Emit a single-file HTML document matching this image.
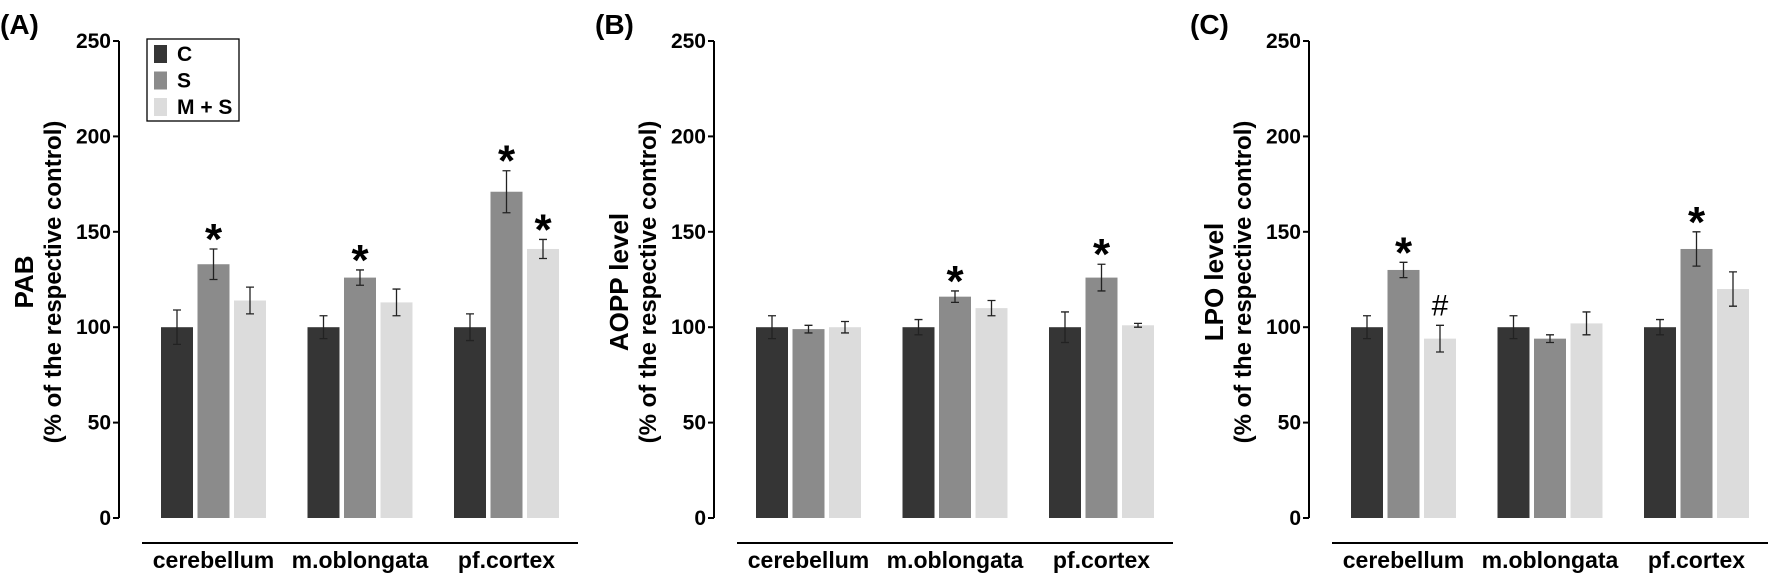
<!DOCTYPE html>
<html><head><meta charset="utf-8"><style>
html,body{margin:0;padding:0;background:#fff;}
svg{display:block;font-family:"Liberation Sans",Arial,sans-serif;font-weight:bold;}
</style></head>
<body>
<svg id="chart" width="1772" height="575" viewBox="0 0 1772 575" xmlns="http://www.w3.org/2000/svg"></svg>
<script>
const categories = ["cerebellum","m.oblongata","pf.cortex"];
const seriesNames = ["C","S","M + S"];
const panelLabels = ["(A)","(B)","(C)"];
const yTitles1 = ["PAB","AOPP level","LPO level"];
const yTicks = [0,50,100,150,200,250];
// values [panel][category][series]
const pabValues  = [[100,133,114],[100,126,113],[100,171,141]];
const pabErrors  = [[9,8,7],[6,4,7],[7,11,5]];
const aoppValues = [[100,99,100],[100,116,110],[100,126,101]];
const aoppErrors = [[6,2,3],[4,3,4],[8,7,1]];
const lpoValues  = [[100,130,94],[100,94,102],[100,141,120]];
const lpoErrors  = [[6,4,7],[6,2,6],[4,9,9]];
// annotations: [panel, category, series, symbol]
const marks = [[0,0,1,"*"],[0,1,1,"*"],[0,2,1,"*"],[0,2,2,"*"],
               [1,1,1,"*"],[1,2,1,"*"],
               [2,0,1,"*"],[2,0,2,"#"],[2,2,1,"*"]];

const values=[pabValues,aoppValues,lpoValues];
const errors=[pabErrors,aoppErrors,lpoErrors];
const colors=["#353535","#8b8b8b","#dcdcdc"];
const svg=document.getElementById('chart');
const NS="http://www.w3.org/2000/svg";
function el(t,a,txt){const e=document.createElementNS(NS,t);for(const k in a)e.setAttribute(k,a[k]);if(txt!==undefined)e.textContent=txt;svg.appendChild(e);return e;}
const y0=518, pxPer=1.908;
function yScale(v){return y0-v*pxPer;}
function axisX(p){return 119+p*595;}
function barX(p,c,s){return axisX(p)+42+c*146.5+s*36.5;}
const BW=32;

for(let p=0;p<3;p++){
  const ax=axisX(p);
  let t=el('text',{x:p*595,y:34,'font-size':28,fill:'#000'},panelLabels[p]);
  
  
  let l=el('line',{x1:ax,y1:yScale(250),x2:ax,y2:y0,stroke:'#000','stroke-width':2});
  
  
  yTicks.forEach(v=>{
    let tk=el('line',{x1:ax-6,y1:yScale(v),x2:ax,y2:yScale(v),stroke:'#000','stroke-width':2});
    
    
    let tl=el('text',{x:ax-8,y:yScale(v)+7,'font-size':21,'text-anchor':'end',fill:'#000'},String(v));
    
    
  });
  const cy=282;
  let t1=el('text',{x:0,y:0,'font-size':26,'text-anchor':'middle',fill:'#000',transform:`translate(${ax-86},${cy}) rotate(-90)`},yTitles1[p]);
  
  
  let t2=el('text',{x:0,y:0,'font-size':24,'text-anchor':'middle',fill:'#000',transform:`translate(${ax-58},${cy}) rotate(-90)`},"(% of the respective control)");
  
  
  let xl=el('line',{x1:ax+23,y1:543,x2:ax+459,y2:543,stroke:'#000','stroke-width':2});
  
  
  categories.forEach((c,ci)=>{
    const cx=barX(p,ci,0)+(36.5*2+BW)/2;
    let ct=el('text',{x:cx,y:568,'font-size':23,'text-anchor':'middle',fill:'#000'},c);
    
    
    for(let s=0;s<3;s++){
      const v=values[p][ci][s], e=errors[p][ci][s], x=barX(p,ci,s);
      let r=el('rect',{x:x,y:yScale(v),width:BW,height:y0-yScale(v),fill:colors[s]});
      
      
      const mx=x+BW/2;
      let eb=el('path',{d:`M${mx},${yScale(v+e)}V${yScale(v-e)}M${mx-4},${yScale(v+e)}H${mx+4}M${mx-4},${yScale(v-e)}H${mx+4}`,stroke:'#222','stroke-width':1.3,fill:'none'});
      
      
    }
  });
}
marks.forEach(m=>{
  const [p,c,s,sym]=m;
  const v=values[p][c][s], e=errors[p][c][s];
  const cx=barX(p,c,s)+BW/2, cy=yScale(v+e)-21;
  let t;
  if(sym==="*") t=el('text',{x:cx,y:cy+26,'font-size':44,'text-anchor':'middle',fill:'#000'},"*");
  else t=el('text',{x:cx,y:cy+11,'font-size':30,'font-weight':'normal','text-anchor':'middle',fill:'#000'},"#");
  
  
});
// legend
let lb=el('rect',{x:147,y:39,width:92,height:82,fill:'#fff',stroke:'#000','stroke-width':1.3});


seriesNames.forEach((n,i)=>{
  const yy=45+i*26.5;
  let sw=el('rect',{x:154,y:yy,width:13,height:18,fill:colors[i]});
  
  
  let lt=el('text',{x:177,y:yy+16,'font-size':21,fill:'#000'},n);
  
  
});
</script>
</body></html>
